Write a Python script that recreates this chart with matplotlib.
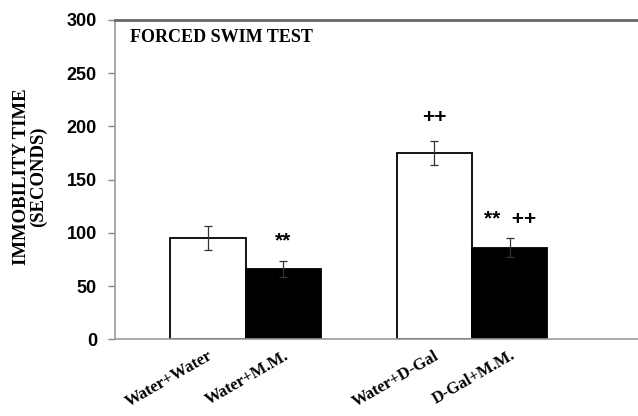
import matplotlib
matplotlib.use("Agg")
import matplotlib.pyplot as plt

groups = ["Water+Water", "Water+M.M.", "Water+D-Gal", "D-Gal+M.M."]
positions = [0, 1, 3, 4]
means = [95, 66, 175, 86]
sem = [11, 7.5, 11, 9]
fills = ["white", "black", "white", "black"]
marks = ["", "**", "++", "**  ++"]
mark_y = [None, 92, 208, 113]
yticks = [0, 50, 100, 150, 200, 250, 300]

fig = plt.figure(figsize=(6.38, 4.16), dpi=100)
ax = fig.add_axes([0.1803, 0.1844, 0.8197, 0.7676])

ax.bar(positions, means, width=1.0, color=fills, edgecolor="black",
       linewidth=1.3, zorder=2)
ax.errorbar(positions, means, yerr=sem, fmt="none", ecolor="#333333",
            elinewidth=0.9, capsize=3, capthick=0.9, zorder=3)

for x, txt, y in zip(positions, marks, mark_y):
    if txt:
        ax.text(x, y, txt, ha="center", va="center", fontsize=15,
                fontweight="bold", family="Liberation Sans")

ax.set_xlim(-1.23, 5.7)
ax.set_ylim(0, 300)
ax.set_yticks(yticks)
ax.set_yticklabels([str(v) for v in yticks], fontsize=13, fontweight="bold",
                   family="Liberation Sans")
ax.tick_params(axis="y", length=5, color="#888888", width=1, pad=8)
ax.set_xticks(positions)
ax.set_xticklabels(groups, rotation=30, ha="right", va="top",
                   rotation_mode="anchor", fontsize=12, fontweight="bold",
                   family="Liberation Serif")
ax.tick_params(axis="x", length=0, pad=6)

for side in ["left", "bottom"]:
    ax.spines[side].set_color("#999999")
    ax.spines[side].set_linewidth(1.2)
ax.spines["top"].set_color("#666666")
ax.spines["top"].set_linewidth(2)
ax.spines["right"].set_visible(False)

ax.text(0.028, 0.946, "FORCED SWIM TEST", transform=ax.transAxes,
        ha="left", va="center", fontsize=13, fontweight="bold",
        family="Liberation Serif")

fig.text(0.047, 0.575, "IMMOBILITY TIME\n(SECONDS)", rotation=90,
         ha="center", va="center", fontsize=13.5, fontweight="bold",
         family="Liberation Serif", linespacing=1.0)

fig.savefig("out.png", dpi=100)
